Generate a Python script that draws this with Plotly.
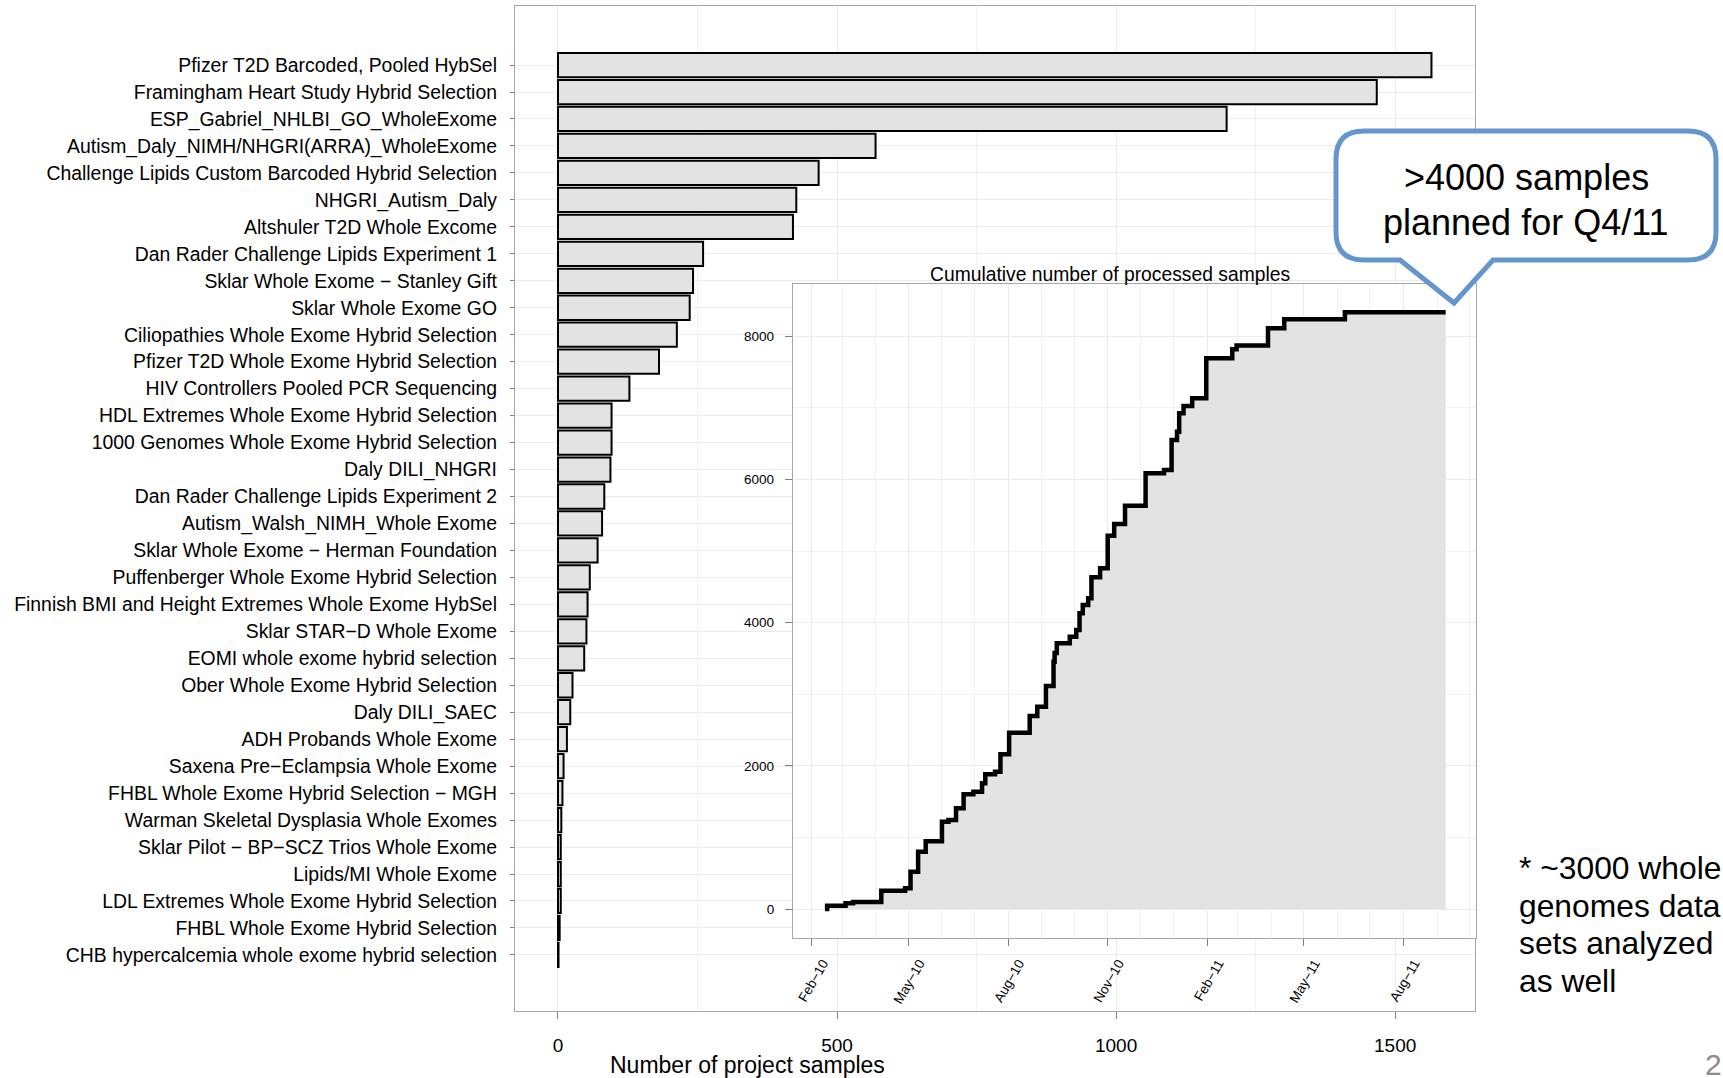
import plotly.graph_objects as go

W, H = 1723, 1078


def fx(x):
    return x / W


def fy(y):
    return 1 - y / H


# ---------------- data ----------------
projects = [
    "Pfizer T2D Barcoded, Pooled HybSel",
    "Framingham Heart Study Hybrid Selection",
    "ESP_Gabriel_NHLBI_GO_WholeExome",
    "Autism_Daly_NIMH/NHGRI(ARRA)_WholeExome",
    "Challenge Lipids Custom Barcoded Hybrid Selection",
    "NHGRI_Autism_Daly",
    "Altshuler T2D Whole Excome",
    "Dan Rader Challenge Lipids Experiment 1",
    "Sklar Whole Exome \u2212 Stanley Gift",
    "Sklar Whole Exome GO",
    "Ciliopathies Whole Exome Hybrid Selection",
    "Pfizer T2D Whole Exome Hybrid Selection",
    "HIV Controllers Pooled PCR Sequencing",
    "HDL Extremes Whole Exome Hybrid Selection",
    "1000 Genomes Whole Exome Hybrid Selection",
    "Daly DILI_NHGRI",
    "Dan Rader Challenge Lipids Experiment 2",
    "Autism_Walsh_NIMH_Whole Exome",
    "Sklar Whole Exome \u2212 Herman Foundation",
    "Puffenberger Whole Exome Hybrid Selection",
    "Finnish BMI and Height Extremes Whole Exome HybSel",
    "Sklar STAR\u2212D Whole Exome",
    "EOMI whole exome hybrid selection",
    "Ober Whole Exome Hybrid Selection",
    "Daly DILI_SAEC",
    "ADH Probands Whole Exome",
    "Saxena Pre\u2212Eclampsia Whole Exome",
    "FHBL Whole Exome Hybrid Selection \u2212 MGH",
    "Warman Skeletal Dysplasia Whole Exomes",
    "Sklar Pilot \u2212 BP\u2212SCZ Trios Whole Exome",
    "Lipids/MI Whole Exome",
    "LDL Extremes Whole Exome Hybrid Selection",
    "FHBL Whole Exome Hybrid Selection",
    "CHB hypercalcemia whole exome hybrid selection",
]
project_samples = [
    1565, 1467, 1198, 569, 467, 427, 421, 260, 242, 236,
    213, 181, 128, 96, 96, 94, 83, 79, 71, 57,
    53, 51, 47, 26, 22, 16, 10, 8, 6, 5,
    5, 5, 3, 1,
]

dates = [
    "2010-02-13", "2010-02-15", "2010-03-04", "2010-03-11", "2010-04-06",
    "2010-04-28", "2010-05-03", "2010-05-10", "2010-05-17", "2010-06-01",
    "2010-06-07", "2010-06-14", "2010-06-21", "2010-06-30", "2010-07-08",
    "2010-07-11", "2010-07-20", "2010-07-25", "2010-08-02", "2010-08-21",
    "2010-08-28", "2010-09-05", "2010-09-12", "2010-09-13", "2010-09-15",
    "2010-09-27", "2010-10-03", "2010-10-06", "2010-10-09", "2010-10-14",
    "2010-10-17", "2010-10-25", "2010-11-01", "2010-11-07", "2010-11-17",
    "2010-12-06", "2010-12-23", "2010-12-30", "2011-01-04", "2011-01-06",
    "2011-01-10", "2011-01-18", "2011-01-31", "2011-02-24", "2011-02-28",
    "2011-03-29", "2011-04-13", "2011-06-08", "2011-09-09",
]
cumulative = [
    0, 46, 80, 97, 256,
    289, 521, 800, 945, 1220,
    1243, 1406, 1601, 1638, 1755,
    1881, 1918, 2160, 2463, 2695,
    2826, 3114, 3454, 3575, 3711,
    3803, 3897, 4130, 4246, 4339,
    4632, 4758, 5214, 5377, 5633,
    6085, 6131, 6550, 6666, 6923,
    7025, 7132, 7691, 7817, 7870,
    8110, 8236, 8334, 8334,
]

month_ticks = ["2010-02-01", "2010-05-01", "2010-08-01", "2010-11-01",
               "2011-02-01", "2011-05-01", "2011-08-01"]
month_labels = ["Feb\u221210", "May\u221210", "Aug\u221210", "Nov\u221210",
                "Feb\u221211", "May\u221211", "Aug\u221211"]
x_ticks = [0, 500, 1000, 1500]
y2_ticks = [0, 2000, 4000, 6000, 8000]

inset_title = "Cumulative number of processed samples"
x_title = "Number of project samples"
callout_lines = [">4000 samples", "planned for Q4/11"]
note_lines = ["* ~3000 whole", "genomes data", "sets analyzed", "as well"]
page_number = "2"

# ---------------- style ----------------
FONT = "Liberation Sans, Arial, Helvetica, sans-serif"
GRID = "#EBEBEB"
MINOR = "#F2F2F2"
BORDER = "#A6A6A6"
TICK = "#7F7F7F"
FILL = "#E3E3E3"

fig = go.Figure()
fig.add_trace(go.Bar(
    x=project_samples, y=projects, orientation="h", width=0.9,
    marker=dict(color=FILL, line=dict(color="black", width=2)),
    showlegend=False, xaxis="x", yaxis="y",
))
fig.add_trace(go.Scatter(
    x=dates, y=cumulative, mode="lines",
    line=dict(shape="hv", color="black", width=4.5),
    fill="tozeroy", fillcolor=FILL,
    showlegend=False, xaxis="x2", yaxis="y2",
))

fig.update_layout(
    width=W, height=H, autosize=False,
    margin=dict(l=0, r=0, t=0, b=0, pad=0, autoexpand=False),
    paper_bgcolor="white", plot_bgcolor="white",
    font=dict(family=FONT, color="black"),
    showlegend=False,
    xaxis=dict(
        domain=[fx(515), fx(1475)], anchor="y", range=[-77, 1643],
        automargin=False,
        tickmode="array", tickvals=x_ticks,
        ticks="outside", ticklen=7, tickcolor=TICK, tickwidth=1,
        tickfont=dict(size=19, color="black"), ticklabelstandoff=10,
        showgrid=True, gridcolor=GRID, gridwidth=1,
        minor=dict(tickmode="linear", tick0=0, dtick=250, showgrid=True,
                   gridcolor=MINOR, ticks=""),
        showline=True, mirror=True, linecolor=BORDER, linewidth=1.3,
        zeroline=False,
    ),
    yaxis=dict(
        domain=[fy(1011), fy(6)], anchor="x", type="category",
        automargin=False,
        categoryorder="array", categoryarray=projects,
        range=[35.08, -2.19],
        ticks="outside", ticklen=4, tickcolor=TICK, tickwidth=1,
        tickfont=dict(size=19.4, color="black"), ticklabelstandoff=9,
        showgrid=True, gridcolor=GRID, gridwidth=1,
        showline=True, mirror=True, linecolor=BORDER, linewidth=1.3,
        zeroline=False,
    ),
    xaxis2=dict(
        domain=[fx(793), fx(1476)], anchor="y2", type="date",
        automargin=False,
        range=["2010-01-14 12:00", "2011-10-07"],
        tickmode="array", tickvals=month_ticks, ticktext=month_labels,
        tickangle=-60, tickfont=dict(size=13.5, color="black"),
        ticklabelstandoff=4, ticklabelshift=11,
        ticks="outside", ticklen=7, tickcolor=TICK, tickwidth=1,
        showgrid=True, gridcolor=GRID, gridwidth=1,
        minor=dict(tickmode="linear", tick0="2010-01-01", dtick="M1",
                   showgrid=True, gridcolor=MINOR, ticks=""),
        showline=True, mirror=True, linecolor=BORDER, linewidth=1.3,
        zeroline=False,
    ),
    yaxis2=dict(
        domain=[fy(938), fy(284)], anchor="x2", range=[-405, 8729],
        automargin=False,
        tickmode="array", tickvals=y2_ticks,
        tickfont=dict(size=13.5, color="black"), ticklabelstandoff=8,
        ticks="outside", ticklen=7, tickcolor=TICK, tickwidth=1,
        showgrid=True, gridcolor=GRID, gridwidth=1,
        minor=dict(tickmode="linear", tick0=0, dtick=1000, showgrid=True,
                   gridcolor=MINOR, ticks=""),
        showline=True, mirror=True, linecolor=BORDER, linewidth=1.3,
        zeroline=False,
    ),
)

ann = []
ann.append(dict(x=fx(1110), y=fy(274), xref="paper", yref="paper",
                text=inset_title, showarrow=False, xanchor="center",
                yanchor="middle", font=dict(size=19.3, color="black")))
ann.append(dict(x=fx(747), y=fy(1065), xref="paper", yref="paper",
                text=x_title, showarrow=False, xanchor="center",
                yanchor="middle", font=dict(size=23, color="black")))
for i, line in enumerate(callout_lines):
    ann.append(dict(x=fx(1526), y=fy(177 + 45 * i), xref="paper", yref="paper",
                    text=line, showarrow=False, xanchor="center",
                    yanchor="middle", font=dict(size=36, color="black")))
for i, line in enumerate(note_lines):
    ann.append(dict(x=fx(1517), y=fy(868 + 37.7 * i), xref="paper", yref="paper",
                    text=line, showarrow=False, xanchor="left",
                    yanchor="middle", font=dict(size=31.8, color="black")))
ann.append(dict(x=fx(1703), y=fy(1064), xref="paper", yref="paper",
                text=page_number, showarrow=False, xanchor="left",
                yanchor="middle", font=dict(size=30, color="#8C8C8C")))
fig.update_layout(annotations=ann)

# callout bubble (rounded box with pointer), pixel geometry -> paper
L, R, T, B, RAD = 1336, 1716, 131, 260, 28
PL, PR, TIPX, TIPY = 1400, 1493, 1454, 303


def P(x, y):
    return f"{fx(x):.5f},{fy(y):.5f}"


path = (
    f"M{P(L + RAD, T)} L{P(R - RAD, T)} Q{P(R, T)} {P(R, T + RAD)} "
    f"L{P(R, B - RAD)} Q{P(R, B)} {P(R - RAD, B)} "
    f"L{P(PR, B)} L{P(TIPX, TIPY)} L{P(PL, B)} "
    f"L{P(L + RAD, B)} Q{P(L, B)} {P(L, B - RAD)} "
    f"L{P(L, T + RAD)} Q{P(L, T)} {P(L + RAD, T)} Z"
)
fig.add_shape(type="path", path=path, xref="paper", yref="paper",
              line=dict(color="#6496CD", width=5), fillcolor="white",
              layer="above")

fig.write_html("out.html", config={"displayModeBar": False})
